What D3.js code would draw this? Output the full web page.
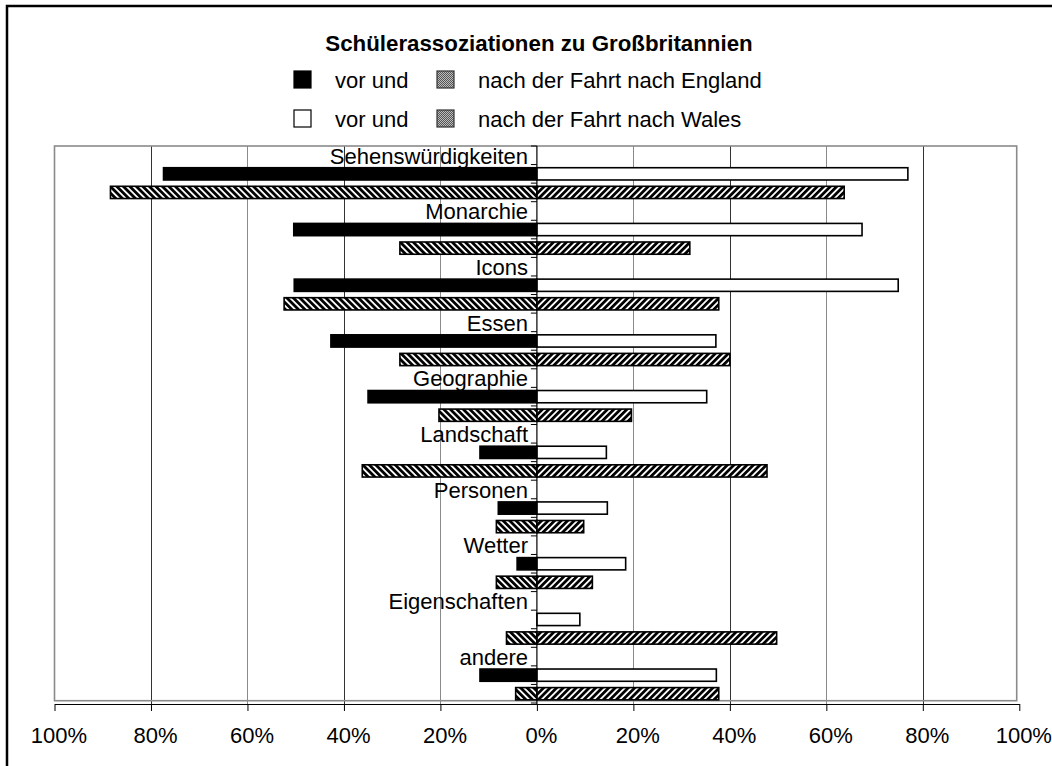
<!DOCTYPE html>
<html>
<head>
  <meta charset="utf-8">
  <title>Schülerassoziationen zu Großbritannien</title>
  <script src="https://d3js.org/d3.v7.min.js"></script>
  <style>
    body { margin: 0; background: #fff; overflow: hidden; }
    svg { display: block; }
    text { font-family: "Liberation Sans", Arial, sans-serif; fill: #000; }
  </style>
</head>
<body>
  <div id="chart"></div>

  <script>
    // data (percent of pupils)
    var categories = ["Sehenswürdigkeiten", "Monarchie", "Icons", "Essen", "Geographie",
                      "Landschaft", "Personen", "Wetter", "Eigenschaften", "andere"];
    var englandVor  = [77.4, 50.4, 50.3, 42.7, 35.0, 11.8, 8.0, 4.1, 0, 11.8];
    var englandNach = [88.4, 28.4, 52.4, 28.4, 20.3, 36.2, 8.4, 8.4, 6.3, 4.4];
    var walesVor    = [76.9, 67.4, 74.9, 37.1, 35.2, 14.4, 14.6, 18.4, 8.9, 37.2];
    var walesNach   = [63.7, 31.7, 37.7, 40.0, 19.6, 47.7, 9.7, 11.5, 49.7, 37.7];
    var tickValues  = [-1, -0.8, -0.6, -0.4, -0.2, 0, 0.2, 0.4, 0.6, 0.8, 1];

    var width = 1052, height = 766;
    var plot = { left: 54.5, right: 1019.3, top: 146, bottom: 703 };

    var svg = d3.select("#chart").append("svg")
      .attr("width", width)
      .attr("height", height);

    var defs = svg.append("defs");
    function stripes(id, angle) {
      var p = defs.append("pattern")
        .attr("id", id)
        .attr("patternUnits", "userSpaceOnUse")
        .attr("width", 4.6).attr("height", 4.6)
        .attr("patternTransform", "rotate(" + angle + ")");
      p.append("rect").attr("width", 4.6).attr("height", 4.6).attr("fill", "#fff");
      p.append("rect").attr("width", 2.8).attr("height", 4.6).attr("fill", "#000");
    }
    stripes("hatchLeft", -45);
    stripes("hatchRight", 45);
    var dots = defs.append("pattern")
      .attr("id", "dots")
      .attr("patternUnits", "userSpaceOnUse")
      .attr("width", 2).attr("height", 2);
    dots.append("rect").attr("width", 2).attr("height", 2).attr("fill", "#bcbcbc");
    dots.append("rect").attr("width", 1).attr("height", 1).attr("fill", "#555");
    dots.append("rect").attr("x", 1).attr("y", 1).attr("width", 1).attr("height", 1).attr("fill", "#555");

    // outer frame (only the top and left edges fall inside the picture)
    svg.append("path")
      .attr("d", "M7," + height + "V6H" + width)
      .attr("fill", "none").attr("stroke", "#000").attr("stroke-width", 2.5);

    var x = d3.scaleLinear().domain([-1, 1]).range([plot.left, plot.right]);
    var slot = d3.scaleLinear().domain([0, 30]).range([plot.top, plot.bottom]);
    var band = d3.scaleBand().domain(d3.range(30)).range([plot.top, plot.bottom])
      .paddingInner(0.34).paddingOuter(0.17);

    // gridlines
    svg.append("g").selectAll("line")
      .data(tickValues.filter(function(d) { return d !== 0 && Math.abs(d) !== 1; }))
      .enter().append("line")
      .attr("x1", function(d) { return Math.round(x(d)) + 0.5; })
      .attr("x2", function(d) { return Math.round(x(d)) + 0.5; })
      .attr("y1", plot.top).attr("y2", 704)
      .attr("stroke", function(d) { return Math.round(Math.abs(d) * 10) % 4 === 0 ? "#333" : "#8a8a8a"; })
      .attr("stroke-width", 1);

    // plot area border
    svg.append("rect")
      .attr("x", plot.left).attr("y", plot.top)
      .attr("width", 1016.7 - plot.left).attr("height", 700.7 - plot.top)
      .attr("fill", "none").attr("stroke", "#8a8a8a").attr("stroke-width", 1.6);

    // bars
    var rows = [];
    categories.forEach(function(c, i) {
      rows.push({ slot: i * 3 + 1, value: -englandVor[i], fill: "#000" });
      rows.push({ slot: i * 3 + 1, value: walesVor[i], fill: "#fff" });
      rows.push({ slot: i * 3 + 2, value: -englandNach[i], fill: "url(#hatchLeft)" });
      rows.push({ slot: i * 3 + 2, value: walesNach[i], fill: "url(#hatchRight)" });
    });

    svg.append("g").selectAll("rect")
      .data(rows.filter(function(d) { return d.value !== 0; }))
      .enter().append("rect")
      .attr("x", function(d) { return x(Math.min(0, d.value / 100)); })
      .attr("width", function(d) { return Math.abs(x(d.value / 100) - x(0)); })
      .attr("y", function(d) { return band(d.slot); })
      .attr("height", band.bandwidth())
      .attr("fill", function(d) { return d.fill; })
      .attr("stroke", "#000")
      .attr("stroke-width", 1.6);

    // category axis
    var cat = svg.append("g");
    cat.append("line")
      .attr("x1", x(0)).attr("x2", x(0))
      .attr("y1", plot.top).attr("y2", 704)
      .attr("stroke", "#000").attr("stroke-width", 1.2);
    cat.selectAll(".tick")
      .data(d3.range(31))
      .enter().append("line")
      .attr("x1", x(0) - 6).attr("x2", x(0))
      .attr("y1", function(d) { return slot(d); })
      .attr("y2", function(d) { return slot(d); })
      .attr("stroke", "#000").attr("stroke-width", 1);
    cat.selectAll("text")
      .data(categories)
      .enter().append("text")
      .attr("x", 528)
      .attr("y", function(d, i) { return slot(i * 3 + 1) - 1; })
      .attr("text-anchor", "end")
      .style("font-size", "22px")
      .text(function(d) { return d; });

    // value axis
    var xAxis = d3.axisBottom(x)
      .tickValues(tickValues)
      .tickFormat(function(d) { return Math.round(Math.abs(d) * 100) + "%"; })
      .tickSize(7)
      .tickSizeOuter(0);
    var ax = svg.append("g")
      .attr("transform", "translate(0,704)")
      .call(xAxis);
    ax.select(".domain").attr("stroke", "#000").attr("stroke-width", 1.2);
    ax.selectAll(".tick line").attr("stroke", "#000");
    ax.selectAll(".tick text")
      .attr("y", 39).attr("dy", null).attr("dx", 4)
      .style("font-size", "22px")
      .style("font-family", "'Liberation Sans', Arial, sans-serif")
      .attr("fill", "#000");

    // title
    svg.append("text")
      .attr("x", 539).attr("y", 51)
      .attr("text-anchor", "middle")
      .style("font-size", "22.3px")
      .style("font-weight", "bold")
      .text("Schülerassoziationen zu Großbritannien");

    // legend
    var legend = [
      { y: 88, left: "#000", right: "url(#dots)", text: "nach der Fahrt nach England" },
      { y: 127, left: "#fff", right: "url(#dots)", text: "nach der Fahrt nach Wales" }
    ];
    var lg = svg.append("g").selectAll("g")
      .data(legend)
      .enter().append("g")
      .attr("transform", function(d) { return "translate(0," + d.y + ")"; });
    lg.append("rect")
      .attr("x", 294).attr("y", -17).attr("width", 17).attr("height", 17)
      .attr("fill", function(d) { return d.left; })
      .attr("stroke", "#000").attr("stroke-width", 1.2);
    lg.append("text")
      .attr("x", 335).attr("y", 0)
      .style("font-size", "22px")
      .text("vor und");
    lg.append("rect")
      .attr("x", 437).attr("y", -17).attr("width", 17).attr("height", 17)
      .attr("fill", function(d) { return d.right; })
      .attr("stroke", "#333").attr("stroke-width", 1.2);
    lg.append("text")
      .attr("x", 478).attr("y", 0)
      .style("font-size", "22px")
      .text(function(d) { return d.text; });
  </script>
</body>
</html>
